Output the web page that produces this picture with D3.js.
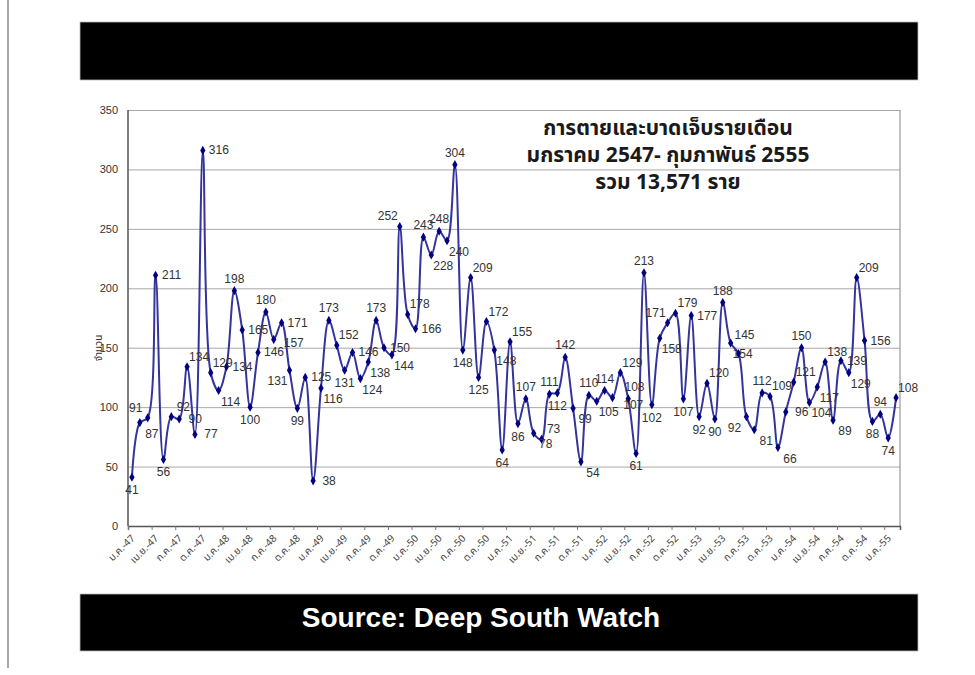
<!DOCTYPE html>
<html lang="th">
<head>
<meta charset="UTF-8">
<title>การตายและบาดเจ็บรายเดือน</title>
<script src="https://cdn.jsdelivr.net/npm/d3@7"></script>
<style>
    body { margin: 0; background: #fff; }
    svg { display: block; }
    .thai { font-family: Tahoma, "Noto Sans Thai", "Noto Sans", sans-serif; }
    .num { font-family: "Liberation Sans", Arial, sans-serif; }
</style>
</head>
<body>
<svg id="chart" width="975" height="675"></svg>
<script>
// monthly deaths + injuries, ม.ค. 2547 .. ก.พ. 2555
const values = [
    41, 87, 91, 211, 56, 92, 90, 134, 77, 316,
    129, 114, 134, 198, 165, 100, 146, 180, 157, 171,
    131, 99, 125, 38, 116, 173, 152, 131, 146, 124,
    138, 173, 150, 144, 252, 178, 166, 243, 228, 248,
    240, 304, 148, 209, 125, 172, 148, 64, 155, 86,
    107, 78, 73, 111, 112, 142, 99, 54, 110, 105,
    114, 108, 129, 107, 61, 213, 102, 158, 171, 179,
    107, 177, 92, 120, 90, 188, 154, 145, 92, 81,
    112, 109, 66, 96, 121, 150, 104, 117, 138, 89,
    139, 129, 209, 156, 88, 94, 74, 108
];

// one label every third month
const tickLabels = [
    "ม.ค.-47", "เม.ย.-47", "ก.ค.-47", "ต.ค.-47",
    "ม.ค.-48", "เม.ย.-48", "ก.ค.-48", "ต.ค.-48",
    "ม.ค.-49", "เม.ย.-49", "ก.ค.-49", "ต.ค.-49",
    "ม.ค.-50", "เม.ย.-50", "ก.ค.-50", "ต.ค.-50",
    "ม.ค.-51", "เม.ย.-51", "ก.ค.-51", "ต.ค.-51",
    "ม.ค.-52", "เม.ย.-52", "ก.ค.-52", "ต.ค.-52",
    "ม.ค.-53", "เม.ย.-53", "ก.ค.-53", "ต.ค.-53",
    "ม.ค.-54", "เม.ย.-54", "ก.ค.-54", "ต.ค.-54",
    "ม.ค.-55"
];

const yTicks = [0, 50, 100, 150, 200, 250, 300, 350];

const titleLines = [
    "การตายและบาดเจ็บรายเดือน",
    "มกราคม 2547- กุมภาพันธ์ 2555",
    "รวม 13,571 ราย"
];

// where each data label sits around its point (a above, b below, r right, l left,
// A above-right, B below-right, L above-left, D below-left, R/Q/S/U hand-nudged)
const labelPlace = (
    "b B L r b A r A r r " +
    "A B r a r b r a R r " +
    "D b r r B a A b r B " +
    "B a r B L A r a B a " +
    "B a b A b A B b A b " +
    "a B A a b a B B a B " +
    "a Q A S b a b B L A " +
    "b r b A b a B U D B " +
    "a A B r A a B B A B " +
    "r B A r b a b A"
).split(" ");

const placeOffset = {
    a: [0, -12], b: [0, 13], r: [16, 0], l: [-16, 0],
    R: [20, 4], Q: [22, -11], S: [5, 6], U: [6, -19],
    A: [12, -10], B: [12, 11], L: [-12, -10], D: [-12, 11]
};

const svg = d3.select("#chart");

// slide edge
svg.append("line")
    .attr("x1", 8).attr("x2", 8).attr("y1", 0).attr("y2", 668)
    .attr("stroke", "#8a8a8a").attr("stroke-width", 1.5);

// black header and source bars
svg.append("rect")
    .attr("x", 80).attr("y", 22).attr("width", 838).attr("height", 58)
    .attr("fill", "#000").attr("stroke", "#bbb").attr("stroke-width", 0.8);

svg.append("rect")
    .attr("x", 80).attr("y", 594).attr("width", 838).attr("height", 57)
    .attr("fill", "#000").attr("stroke", "#bbb").attr("stroke-width", 0.8);

svg.append("text")
    .attr("x", 481).attr("y", 627)
    .attr("text-anchor", "middle")
    .attr("fill", "#fff")
    .style("font-family", "'Liberation Sans', Arial, sans-serif")
    .style("font-weight", "bold")
    .style("font-size", "28px")
    .text("Source: Deep South Watch");

const plotLeft = 128, plotRight = 900, plotTop = 110, plotBottom = 526;

const x = d3.scaleBand().domain(d3.range(values.length)).range([plotLeft, plotRight]);
const xEdge = d3.scaleLinear().domain([0, values.length]).range([plotLeft, plotRight]);
const y = d3.scaleLinear().domain([0, 350]).range([plotBottom, plotTop]);
const cx = i => x(i) + x.bandwidth() / 2;

// grid + y labels
const yAxis = svg.append("g")
    .attr("transform", `translate(${plotLeft},0)`)
    .call(d3.axisLeft(y).tickValues(yTicks).tickSize(-(plotRight - plotLeft)).tickPadding(10));
yAxis.select(".domain").remove();
yAxis.selectAll(".tick line").attr("stroke", "#a8a8a8").attr("stroke-width", 1);
yAxis.selectAll(".tick text")
    .attr("class", "num").attr("fill", "#333").style("font-size", "11px");

// plot frame (right side)
svg.append("line")
    .attr("x1", plotRight).attr("x2", plotRight).attr("y1", plotTop).attr("y2", plotBottom)
    .attr("stroke", "#999").attr("stroke-width", 1.2);

// left axis line
svg.append("line")
    .attr("x1", plotLeft).attr("x2", plotLeft).attr("y1", plotTop).attr("y2", plotBottom)
    .attr("stroke", "#555").attr("stroke-width", 1.5);

// bottom axis, ticks on quarter boundaries
const xAxis = svg.append("g")
    .attr("transform", `translate(0,${plotBottom})`)
    .call(d3.axisBottom(xEdge)
        .tickValues(d3.range(0, values.length, 3))
        .tickSize(4)
        .tickFormat((d, i) => tickLabels[i]));
xAxis.select(".domain").attr("stroke", "#555").attr("stroke-width", 1.5);
xAxis.selectAll(".tick line").attr("stroke", "#777");
xAxis.selectAll(".tick text")
    .attr("class", "thai")
    .attr("fill", "#444")
    .style("font-size", "10px")
    .attr("text-anchor", "end")
    .attr("dy", null)
    .attr("transform", "translate(2,8) rotate(-45)");

// y title
svg.append("text")
    .attr("class", "thai")
    .attr("transform", "translate(102,348) rotate(-90)")
    .attr("text-anchor", "middle")
    .attr("fill", "#333")
    .style("font-size", "10px")
    .text("จำนวน");

// chart title
svg.append("g").selectAll("text")
    .data(titleLines)
    .join("text")
    .attr("class", "thai")
    .attr("x", 668)
    .attr("y", (d, i) => 135 + i * 27)
    .attr("text-anchor", "middle")
    .attr("fill", "#1a1a1a")
    .style("font-size", "21px")
    .style("font-weight", "bold")
    .text(d => d);

// series line, smoothed like the spreadsheet original
const line = d3.line()
    .x((d, i) => cx(i))
    .y(d => y(d))
    .curve(d3.curveCatmullRom.alpha(0.5));

svg.append("path")
    .datum(values)
    .attr("fill", "none")
    .attr("stroke", "#34349c")
    .attr("stroke-width", 2)
    .attr("stroke-linejoin", "round")
    .attr("d", line);

// diamond markers
svg.append("g").selectAll("path")
    .data(values)
    .join("path")
    .attr("transform", (d, i) => `translate(${cx(i)},${y(d)})`)
    .attr("d", d3.symbol(d3.symbolDiamond, 24))
    .attr("fill", "#000080");

// data labels
svg.append("g").selectAll("text")
    .data(values)
    .join("text")
    .attr("class", "num")
    .attr("x", (d, i) => cx(i) + placeOffset[labelPlace[i]][0])
    .attr("y", (d, i) => y(d) + placeOffset[labelPlace[i]][1])
    .attr("text-anchor", "middle")
    .attr("dominant-baseline", "central")
    .attr("fill", "#333")
    .style("font-size", "12px")
    .text(d => d);
</script>
</body>
</html>
